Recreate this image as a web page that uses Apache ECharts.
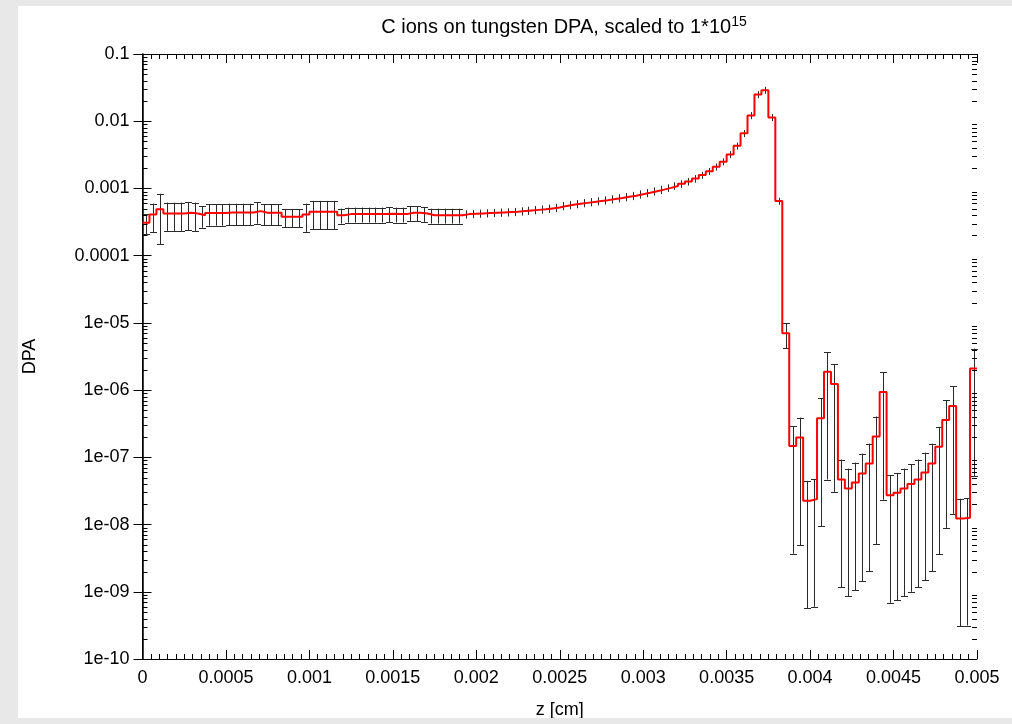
<!DOCTYPE html>
<html>
<head>
<meta charset="utf-8">
<script src="https://cdn.jsdelivr.net/npm/echarts/dist/echarts.min.js"></script>
<style>
  html, body { margin: 0; padding: 0; width: 1012px; height: 724px; overflow: hidden; background: #e8e8e8; }
  #chart { position: absolute; left: 18px; top: 6px; width: 994px; height: 712px; background: #ffffff; }
</style>
</head>
<body>
<div id="chart"></div>
<script>
// Depth range of the histogram (cm) and number of bins
const zMin = 0;
const zMax = 0.005;
const nBins = 120;

// DPA per depth bin (scaled to 1e15 ions)
const dpa = [
  3.1e-4, 4.1e-4, 4.9e-4, 4.25e-4, 4.25e-4, 4.25e-4, 4.35e-4, 4.25e-4, 4.0e-4, 4.3e-4,
  4.3e-4, 4.3e-4, 4.4e-4, 4.4e-4, 4.4e-4, 4.4e-4, 4.6e-4, 4.35e-4, 4.35e-4, 4.35e-4,
  3.8e-4, 3.8e-4, 3.8e-4, 4.1e-4, 4.5e-4, 4.5e-4, 4.5e-4, 4.5e-4, 4.0e-4, 4.15e-4,
  4.15e-4, 4.15e-4, 4.15e-4, 4.15e-4, 4.15e-4, 4.2e-4, 4.15e-4, 4.15e-4, 4.35e-4, 4.35e-4,
  4.25e-4, 4.0e-4, 4.0e-4, 4.0e-4, 4.0e-4, 4.0e-4, 4.15e-4, 4.2e-4, 4.25e-4, 4.3e-4,
  4.35e-4, 4.4e-4, 4.45e-4, 4.5e-4, 4.6e-4, 4.7e-4, 4.8e-4, 4.9e-4, 5.05e-4, 5.2e-4,
  5.5e-4, 5.7e-4, 5.9e-4, 6.1e-4, 6.3e-4, 6.5e-4, 6.7e-4, 6.95e-4, 7.2e-4, 7.5e-4,
  7.8e-4, 8.2e-4, 8.6e-4, 9.1e-4, 9.6e-4, 1.02e-3, 1.09e-3, 1.17e-3, 1.27e-3, 1.4e-3,
  1.58e-3, 1.8e-3, 2.1e-3, 2.5e-3, 3.2e-3, 4.3e-3, 6.6e-3, 1.22e-2, 2.5e-2, 2.9e-2,
  1.14e-2, 6.5e-4, 7.0e-6, 1.47e-7, 1.98e-7, 2.26e-8, 2.39e-8, 3.8e-7, 1.87e-6, 1.23e-6,
  4.7e-8, 3.44e-8, 4.23e-8, 5.75e-8, 8.1e-8, 2.05e-7, 9.4e-7, 2.74e-8, 2.97e-8, 3.45e-8,
  4.0e-8, 4.7e-8, 5.95e-8, 8.1e-8, 1.44e-7, 3.58e-7, 5.78e-7, 1.23e-8, 1.26e-8, 2.1e-6
];

// Relative statistical error of each bin
const relErr = [
  0.33, 0.45, 0.7, 0.45, 0.45, 0.45, 0.45, 0.45, 0.35, 0.35,
  0.35, 0.35, 0.35, 0.35, 0.35, 0.35, 0.35, 0.35, 0.35, 0.35,
  0.3, 0.3, 0.3, 0.45, 0.45, 0.45, 0.45, 0.45, 0.25, 0.25,
  0.25, 0.25, 0.25, 0.25, 0.25, 0.25, 0.25, 0.25, 0.25, 0.25,
  0.25, 0.25, 0.25, 0.25, 0.25, 0.25, 0.14, 0.14, 0.14, 0.14,
  0.14, 0.14, 0.14, 0.14, 0.14, 0.14, 0.14, 0.14, 0.14, 0.14,
  0.14, 0.14, 0.14, 0.14, 0.14, 0.14, 0.14, 0.14, 0.14, 0.14,
  0.14, 0.14, 0.14, 0.14, 0.14, 0.13, 0.13, 0.13, 0.13, 0.13,
  0.12, 0.12, 0.12, 0.12, 0.12, 0.12, 0.12, 0.12, 0.12, 0.12,
  0.12, 0.12, 0.4, 0.975, 0.975, 0.975, 0.975, 0.975, 0.975, 0.975,
  0.975, 0.975, 0.975, 0.975, 0.975, 0.975, 0.975, 0.975, 0.975, 0.975,
  0.975, 0.975, 0.975, 0.975, 0.975, 0.975, 0.975, 0.975, 0.975, 0.975
];

// Axis ranges
const yMin = 1e-10;
const yMax = 0.1;
const xTickStep = 0.0005;

const FONT = "'Liberation Sans', Arial, Helvetica, sans-serif";
const binWidth = (zMax - zMin) / nBins;

// Step outline: one point at the left edge of each bin plus the closing edge
const stepPoints = dpa.map((v, i) => [zMin + i * binWidth, v]);
stepPoints.push([zMax, dpa[dpa.length - 1]]);

// Error bars at the bin centres
const errData = dpa.map((v, i) => [zMin + (i + 0.5) * binWidth, v * (1 - relErr[i]), v * (1 + relErr[i])]);

// Logarithmic minor tick values (2..9 within each decade)
const logMinor = [];
for (let e = -10; e < -1; e++) {
  for (let m = 2; m <= 9; m++) logMinor.push([0, m * Math.pow(10, e)]);
}

function yLabel(v) {
  const e = Math.round(Math.log10(v));
  if (e >= -4) return '0.' + '0'.repeat(-e - 1) + '1';
  const n = -e;
  return '1e-' + (n < 10 ? '0' + n : '' + n);
}
function xLabel(v) {
  return String(parseFloat(v.toFixed(5)));
}

const chart = echarts.init(document.getElementById('chart'), null, { renderer: 'canvas' });

const axisLineStyle = { color: '#000', width: 1 };

chart.setOption({
  backgroundColor: '#ffffff',
  animation: false,
  textStyle: { fontFamily: FONT },
  title: {
    text: 'C ions on tungsten DPA, scaled to 1*10{sup|15}',
    left: 541,
    top: 4,
    textAlign: 'center',
    textStyle: {
      fontFamily: FONT, fontSize: 20, fontWeight: 'normal', color: '#000',
      rich: { sup: { fontFamily: FONT, fontSize: 14, color: '#000', verticalAlign: 'top', padding: [0, 0, 11, 0] } }
    }
  },
  grid: { left: 124.5, right: 35, top: 48, bottom: 59, containLabel: false, outerBoundsMode: 'none' },
  xAxis: [
    {
      type: 'value', min: zMin, max: zMax, interval: xTickStep, position: 'bottom',
      axisLine: { show: true, lineStyle: axisLineStyle },
      axisTick: { show: true, inside: true, length: 9, lineStyle: axisLineStyle },
      minorTick: { show: true, splitNumber: 10, length: 5, lineStyle: axisLineStyle },
      splitLine: { show: false },
      axisLabel: { formatter: xLabel, color: '#000', fontSize: 18, fontFamily: FONT, margin: 10 },
      name: 'z [cm]', nameLocation: 'middle', nameGap: 42,
      nameTextStyle: { color: '#000', fontSize: 18, fontFamily: FONT }
    },
    {
      type: 'value', min: zMin, max: zMax, interval: xTickStep, position: 'top',
      axisLine: { show: true, lineStyle: axisLineStyle },
      axisTick: { show: true, inside: true, length: 9, lineStyle: axisLineStyle },
      minorTick: { show: true, splitNumber: 10, length: 5, lineStyle: axisLineStyle },
      splitLine: { show: false },
      axisLabel: { show: false }
    }
  ],
  yAxis: [
    {
      type: 'log', logBase: 10, min: yMin, max: yMax, splitNumber: 9, position: 'left',
      axisLine: { show: true, lineStyle: { color: '#000', width: 1.5 } },
      axisTick: { show: true, inside: true, length: 9, lineStyle: axisLineStyle },
      splitLine: { show: false },
      axisLabel: { formatter: yLabel, color: '#000', fontSize: 18, fontFamily: FONT, margin: 13 },
      name: 'DPA', nameLocation: 'middle', nameGap: 103, nameRotate: 90,
      nameTextStyle: { color: '#000', fontSize: 18, fontFamily: FONT }
    },
    {
      type: 'log', logBase: 10, min: yMin, max: yMax, splitNumber: 9, position: 'right',
      axisLine: { show: true, lineStyle: axisLineStyle },
      axisTick: { show: true, inside: true, length: 9, lineStyle: axisLineStyle },
      splitLine: { show: false },
      axisLabel: { show: false }
    }
  ],
  series: [
    {
      // minor decade ticks on the left and right frame
      type: 'custom',
      xAxisIndex: 0, yAxisIndex: 0,
      data: logMinor,
      encode: { x: 0, y: 1 },
      silent: true,
      clip: false,
      z: 5,
      renderItem: function (params, api) {
        const cs = params.coordSys;
        const y = Math.round(api.coord([0, api.value(1)])[1]) + 0.5;
        const st = { stroke: '#000', lineWidth: 1 };
        return {
          type: 'group',
          children: [
            { type: 'line', shape: { x1: cs.x, y1: y, x2: cs.x + 5, y2: y }, style: st },
            { type: 'line', shape: { x1: cs.x + cs.width - 5, y1: y, x2: cs.x + cs.width, y2: y }, style: st }
          ]
        };
      }
    },
    {
      // statistical error bars
      type: 'custom',
      xAxisIndex: 0, yAxisIndex: 0,
      data: errData,
      encode: { x: 0, y: [1, 2] },
      silent: true,
      z: 2,
      renderItem: function (params, api) {
        const lo = api.coord([api.value(0), api.value(1)]);
        const hi = api.coord([api.value(0), api.value(2)]);
        const x = Math.round(lo[0]) + 0.5;
        const st = { stroke: '#2a2a2a', lineWidth: 1 };
        const children = [{ type: 'line', shape: { x1: x, y1: lo[1], x2: x, y2: hi[1] }, style: st }];
        if (Math.abs(lo[1] - hi[1]) > 12) {
          const yl = Math.round(lo[1]) + 0.5, yh = Math.round(hi[1]) + 0.5;
          children.push({ type: 'line', shape: { x1: x - 3.5, y1: yl, x2: x + 3.5, y2: yl }, style: st });
          children.push({ type: 'line', shape: { x1: x - 3.5, y1: yh, x2: x + 3.5, y2: yh }, style: st });
        }
        return { type: 'group', children: children };
      }
    },
    {
      // DPA histogram outline
      type: 'line',
      xAxisIndex: 0, yAxisIndex: 0,
      data: stepPoints,
      step: 'end',
      showSymbol: false,
      symbol: 'none',
      lineStyle: { color: '#ff0000', width: 2 },
      silent: true,
      z: 3
    }
  ]
});
</script>
</body>
</html>
